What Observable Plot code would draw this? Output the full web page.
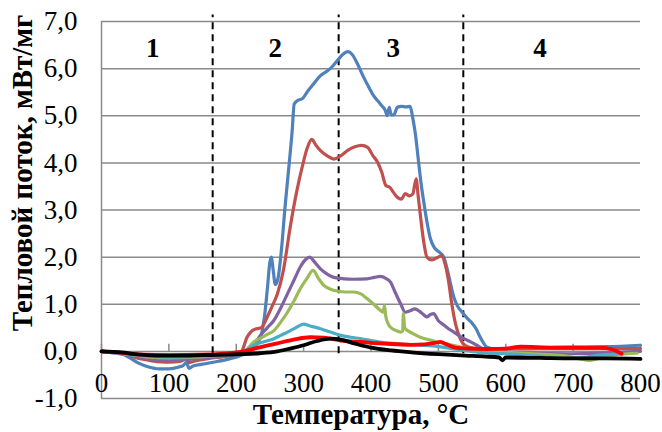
<!DOCTYPE html>
<html>
<head>
<meta charset="utf-8">
<script src="https://cdn.jsdelivr.net/npm/d3@7"></script>
<script src="https://cdn.jsdelivr.net/npm/@observablehq/plot@0.6"></script>
<style>
  body { margin: 0; background: #fff; }
</style>
</head>
<body>
<div id="chart"></div>
<script>
const xTicks = [0, 100, 200, 300, 400, 500, 600, 700, 800];
const yTicks = [-1, 0, 1, 2, 3, 4, 5, 6, 7];
const dividers = [165, 352, 537];
const regionLabels = ["1", "2", "3", "4"];
const regionX = [76, 258, 433, 651];
const xTitle = "Температура, °C";
const yTitle = "Тепловой поток, мВт/мг";

const blue = [[0,0],[25,-0.02],[40,-0.12],[55,-0.25],[70,-0.33],[85,-0.37],[100,-0.37],[115,-0.33],[121,-0.3],[126,-0.24],[130,-0.36],[136,-0.31],[150,-0.27],[170,-0.22],[190,-0.16],[205,-0.1],[215,-0.04],[225,0.05],[232,0.18],[238,0.4],[242,0.75],[246,1.3],[250,1.9],[252,2.0],[255,1.7],[258,1.42],[262,1.55],[268,2.3],[272,3.0],[276,3.6],[279,4.05],[283,4.68],[286,5.25],[292,5.33],[298,5.36],[306,5.52],[315,5.68],[325,5.85],[335,5.95],[343,6.05],[350,6.17],[358,6.3],[366,6.36],[372,6.3],[380,6.1],[389,5.82],[397,5.6],[404,5.42],[411,5.3],[416,5.21],[421,5.12],[424,5.0],[427,5.18],[430,5.02],[434,5.02],[439,5.18],[445,5.2],[452,5.19],[458,5.2],[462,4.95],[466,4.6],[470,4.1],[474,3.6],[478,3.2],[483,2.75],[488,2.4],[494,2.2],[500,2.12],[508,2.0],[513,1.75],[518,1.44],[523,1.15],[528,0.97],[536,0.82],[543,0.7],[550,0.6],[556,0.48],[561,0.33],[566,0.2],[572,0.09],[585,0.05],[620,0.06],[660,0.08],[700,0.09],[750,0.1],[800,0.13]];

const brown = [[0,0],[30,-0.03],[50,-0.13],[75,-0.2],[100,-0.23],[118,-0.21],[125,-0.15],[130,-0.24],[140,-0.2],[160,-0.15],[180,-0.11],[200,-0.06],[208,0.0],[216,0.3],[222,0.42],[230,0.48],[237,0.5],[246,0.73],[254,0.98],[261,1.22],[270,1.72],[280,2.63],[290,3.41],[298,3.92],[305,4.3],[312,4.5],[318,4.38],[325,4.26],[335,4.15],[345,4.08],[355,4.15],[366,4.27],[376,4.34],[386,4.37],[395,4.33],[403,4.15],[410,4.01],[416,3.8],[422,3.52],[428,3.48],[433,3.38],[439,3.27],[445,3.23],[451,3.35],[457,3.3],[462,3.34],[467,3.66],[470,3.3],[474,2.8],[478,2.35],[483,2.0],[490,1.94],[497,1.98],[505,2.03],[510,1.85],[515,1.5],[520,1.0],[526,0.55],[533,0.25],[540,0.12],[552,0.07],[600,0.05],[650,0.06],[700,0.06],[750,0.06],[800,0.06]];

const purple = [[0,0],[40,-0.08],[70,-0.16],[100,-0.19],[130,-0.17],[160,-0.13],[200,-0.07],[215,0.0],[225,0.12],[236,0.34],[246,0.5],[256,0.66],[266,0.92],[276,1.22],[286,1.52],[295,1.79],[303,1.95],[309,2.0],[316,1.9],[325,1.75],[335,1.64],[345,1.57],[360,1.54],[374,1.53],[394,1.54],[405,1.57],[414,1.59],[422,1.55],[429,1.47],[436,1.25],[444,1.01],[451,0.83],[458,0.86],[465,0.9],[472,0.85],[478,0.78],[483,0.73],[489,0.79],[493,0.8],[500,0.65],[508,0.56],[515,0.48],[523,0.41],[530,0.34],[538,0.27],[548,0.2],[557,0.13],[565,0.06],[572,0.02],[600,-0.02],[650,-0.04],[700,-0.05],[750,-0.03],[800,0.0]];

const green = [[0,0],[40,-0.06],[70,-0.12],[100,-0.14],[130,-0.13],[160,-0.1],[200,-0.05],[215,0.03],[226,0.2],[236,0.28],[246,0.36],[256,0.44],[266,0.62],[276,0.83],[286,1.08],[295,1.33],[305,1.55],[314,1.72],[322,1.55],[330,1.4],[340,1.32],[350,1.28],[362,1.26],[374,1.26],[385,1.22],[394,1.12],[404,1.0],[414,0.87],[418,0.83],[420,0.97],[422,0.74],[425,0.6],[429,0.51],[436,0.45],[444,0.41],[447,0.43],[448,0.8],[450,0.5],[458,0.41],[466,0.35],[473,0.3],[485,0.25],[498,0.2],[515,0.15],[530,0.1],[545,0.06],[560,0.03],[600,-0.02],[650,-0.06],[690,-0.1],[710,-0.16],[725,-0.19],[740,-0.14],[760,-0.08],[780,-0.05],[795,-0.04]];

const cyan = [[0,0],[50,-0.08],[100,-0.12],[150,-0.1],[200,-0.05],[215,0.02],[226,0.13],[240,0.2],[256,0.27],[266,0.34],[276,0.41],[288,0.5],[300,0.58],[310,0.54],[325,0.48],[340,0.41],[355,0.34],[370,0.3],[384,0.27],[400,0.23],[424,0.18],[450,0.15],[473,0.13],[500,0.1],[520,0.06],[538,0.02],[560,-0.02],[600,-0.05],[650,-0.1],[686,-0.15],[720,-0.12],[740,-0.08],[765,-0.06]];

const red = [[0,0],[30,-0.03],[60,-0.07],[100,-0.08],[150,-0.07],[206,-0.01],[230,0.07],[261,0.17],[285,0.25],[310,0.3],[330,0.29],[355,0.23],[384,0.2],[424,0.16],[460,0.14],[480,0.15],[495,0.18],[503,0.2],[512,0.15],[525,0.08],[543,0.06],[572,0.05],[600,0.06],[622,0.1],[671,0.08],[700,0.08],[740,0.08],[758,0.04],[772,-0.05]];

const black = [[0,0],[30,-0.02],[50,-0.06],[80,-0.09],[110,-0.09],[150,-0.08],[206,-0.06],[235,-0.04],[261,0.0],[280,0.06],[300,0.13],[320,0.22],[340,0.27],[355,0.25],[375,0.17],[400,0.08],[430,0.02],[460,-0.02],[500,-0.06],[540,-0.09],[570,-0.11],[590,-0.13],[595,-0.19],[600,-0.13],[650,-0.14],[700,-0.15],[750,-0.15],[800,-0.16]];

const series = [
  {name: "blue", color: "#4F81BD", w: 3.2, pts: blue},
  {name: "brown", color: "#C0504D", w: 3.2, pts: brown},
  {name: "purple", color: "#8064A2", w: 3.2, pts: purple},
  {name: "green", color: "#9BBB59", w: 3.2, pts: green},
  {name: "cyan", color: "#4BACC6", w: 3.2, pts: cyan},
  {name: "red", color: "#FF0000", w: 3.8, pts: red},
  {name: "black", color: "#000000", w: 3.8, pts: black}
];

const regions = regionLabels.map((t, i) => ({t, x: regionX[i]}));
const fmt = d => d.toFixed(1).replace(".", ",");

const marks = [
  Plot.ruleY(yTicks, {stroke: "#8a8a8a", strokeWidth: 1.5}),
  Plot.ruleX([0], {y1: -1, y2: 7, stroke: "#8a8a8a", strokeWidth: 1.5}),
  Plot.ruleX(xTicks, {y1: 0, y2: 0.15, stroke: "#8a8a8a", strokeWidth: 1.5}),
  Plot.axisY({ticks: yTicks, tickSize: 0, tickPadding: 24, tickFormat: fmt, fontSize: 27, label: null}),
  Plot.axisX({ticks: xTicks, anchor: "bottom", tickSize: 0, tickPadding: 0, dy: -26, tickFormat: d => String(d), fontSize: 27, label: null}),
  Plot.ruleX(dividers, {y1: -0.05, y2: 7.14, stroke: "#000", strokeWidth: 2, strokeDasharray: "7,5"}),
  Plot.text(regions, {x: "x", y: 6.42, text: "t", fontSize: 27, fontWeight: "bold"}),
  ...series.map(s => Plot.line(s.pts, {x: d => d[0], y: d => d[1], stroke: s.color, strokeWidth: s.w, curve: "monotone-x", strokeLinejoin: "round", strokeLinecap: "round"})),
  Plot.text([xTitle], {frameAnchor: "bottom", textAnchor: "middle", lineAnchor: "middle", dx: -10, dy: 16, fontSize: 29, fontWeight: "bold"}),
  Plot.text([yTitle], {frameAnchor: "left", textAnchor: "middle", lineAnchor: "middle", rotate: -90, dx: -79, dy: -37, fontSize: 29, fontWeight: "bold"})
];

const chart = Plot.plot({
  width: 662,
  height: 432,
  marginLeft: 101,
  marginRight: 22,
  marginTop: 21,
  marginBottom: 34,
  x: {domain: [0, 800], axis: null},
  y: {domain: [-1, 7], axis: null},
  style: {fontFamily: "'Liberation Serif', 'Times New Roman', serif", fontSize: "27px", background: "#fff", color: "#000", overflow: "visible"},
  marks
});
document.getElementById("chart").appendChild(chart);
</script>
</body>
</html>
